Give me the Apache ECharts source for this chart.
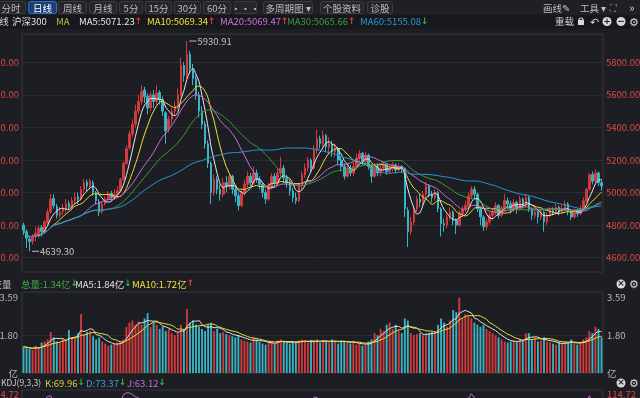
<!DOCTYPE html>
<html>
<head>
<meta charset="utf-8">
<script src="https://cdn.jsdelivr.net/npm/echarts@6/dist/echarts.min.js"></script>
<style>
html, body { margin: 0; padding: 0; background: #1d1e23; }
#kline { width: 640px; height: 398px; }
</style>
</head>
<body>
<div id="kline"></div>
<script>
// 沪深300 日K  [open, close, low, high]
const kline = [
    [4800,4770,4740,4815],[4760,4720,4660,4775],[4715,4700,4639.3,4730],[4700,4730,4680,4745],[4735,4750,4700,4790],
    [4745,4780,4720,4800],[4785,4760,4730,4800],[4760,4820,4750,4830],[4815,4880,4800,4900],[4880,4960,4870,4990],
    [4965,4920,4900,4990],[4915,4860,4840,4930],[4860,4880,4845,4910],[4885,4900,4860,4930],[4900,4930,4880,4960],
    [4935,4910,4890,4950],[4905,4950,4890,4970],[4950,4970,4930,5000],[4975,4960,4930,5000],[4960,5020,4950,5040],
    [5020,5060,5000,5085],[5065,5040,5010,5080],[5040,5070,5020,5085],[5060,5000,4980,5075],[5000,4950,4930,5010],
    [4945,4880,4855,4960],[4880,4930,4870,4945],[4935,4960,4920,4975],[4960,4990,4950,5010],[4995,4970,4950,5010],
    [4970,4990,4955,5020],[4990,5010,4975,5040],[5010,5080,5000,5090],[5080,5180,5070,5190],[5180,5270,5170,5290],
    [5275,5360,5260,5380],[5360,5420,5340,5450],[5420,5500,5400,5540],[5500,5560,5480,5600],[5560,5620,5540,5660],
    [5630,5590,5550,5650],[5590,5520,5480,5610],[5520,5600,5500,5620],[5600,5560,5520,5630],[5560,5610,5540,5660],
    [5615,5570,5540,5630],[5570,5500,5470,5590],[5490,5380,5300,5500],[5390,5450,5370,5470],[5450,5500,5420,5520],
    [5500,5530,5470,5560],[5530,5600,5510,5640],[5600,5780,5590,5830],[5780,5720,5680,5800],[5720,5850,5700,5930.91],
    [5850,5760,5730,5870],[5760,5700,5660,5790],[5700,5600,5570,5720],[5600,5500,5460,5620],[5500,5420,5390,5530],
    [5420,5300,5270,5440],[5300,5180,5150,5320],[5180,5000,4930,5190],[5000,5080,4980,5110],[5080,5020,4990,5100],
    [5020,4990,4950,5050],[4990,5060,4970,5090],[5060,5040,5000,5100],[5040,5100,5020,5110],[5100,5020,4990,5110],
    [5020,4980,4940,5040],[4980,4920,4890,5000],[4920,5000,4910,5020],[5000,5050,4980,5080],[5050,5100,5030,5130],
    [5100,5060,5040,5120],[5060,5120,5050,5160],[5120,5080,5060,5140],[5080,5050,5020,5100],[5050,5000,4970,5060],
    [5000,4960,4930,5020],[4960,5040,4950,5060],[5040,5100,5020,5120],[5100,5060,5040,5120],[5060,5120,5050,5150],
    [5120,5150,5100,5220],[5150,5090,5060,5170],[5090,5060,5030,5110],[5060,5010,4980,5080],[5010,4970,4940,5030],
    [4970,4950,4930,5000],[4950,5040,4940,5060],[5040,5110,5020,5130],[5110,5150,5090,5180],[5150,5200,5130,5220],
    [5200,5150,5120,5210],[5150,5260,5140,5290],[5260,5330,5240,5385],[5330,5300,5270,5350],[5300,5350,5280,5380],
    [5350,5280,5250,5360],[5280,5300,5240,5340],[5300,5250,5220,5320],[5250,5270,5220,5300],[5270,5200,5170,5280],
    [5200,5160,5130,5220],[5160,5100,5080,5180],[5100,5150,5090,5170],[5150,5120,5100,5170],[5120,5160,5100,5190],
    [5160,5210,5150,5240],[5210,5240,5190,5260],[5240,5190,5170,5250],[5190,5230,5180,5250],[5230,5160,5140,5240],
    [5160,5100,5060,5170],[5100,5160,5090,5180],[5160,5120,5100,5180],[5120,5150,5100,5170],[5150,5170,5130,5190],
    [5170,5130,5110,5180],[5130,5150,5120,5170],[5150,5170,5130,5190],[5170,5140,5120,5180],[5140,5160,5130,5180],
    [5160,5150,5120,5170],[5150,4900,4850,5150],[4890,4760,4665,4910],[4760,4820,4740,4850],[4820,4900,4800,4920],
    [4900,4960,4880,4980],[4960,4940,4910,4990],[4940,4990,4920,5010],[4990,5040,4970,5065],[5040,4990,4970,5050],
    [4990,4970,4940,5010],[4970,5000,4950,5020],[5000,4900,4880,5010],[4900,4810,4730,4910],[4810,4800,4760,4840],
    [4800,4850,4780,4870],[4850,4880,4830,4910],[4880,4830,4800,4890],[4830,4800,4745,4840],[4800,4870,4790,4890],
    [4870,4900,4850,4920],[4900,4920,4880,4950],[4920,4980,4900,5000],[4980,5020,4960,5040],[5020,4990,4960,5040],
    [4990,4900,4880,5000],[4900,4850,4800,4910],[4850,4790,4765,4860],[4790,4820,4770,4840],[4820,4860,4800,4880],
    [4860,4880,4830,4900],[4880,4920,4860,4940],[4920,4860,4840,4930],[4860,4900,4850,4920],[4900,4950,4880,4990],
    [4950,4930,4900,4970],[4930,4900,4870,4950],[4900,4940,4880,4960],[4940,4900,4870,4950],[4900,4960,4890,4980],
    [4960,4930,4900,4970],[4930,4970,4910,4990],[4970,4900,4880,4980],[4900,4860,4830,4910],[4860,4880,4840,4900],
    [4880,4850,4810,4890],[4850,4880,4830,4900],[4880,4820,4760,4890],[4820,4860,4800,4880],[4860,4890,4850,4910],
    [4890,4880,4860,4910],[4880,4910,4870,4930],[4910,4880,4860,4920],[4880,4900,4870,4920],[4900,4930,4890,4950],
    [4930,4880,4860,4940],[4880,4850,4830,4900],[4850,4890,4840,4900],[4890,4870,4850,4900],[4870,4900,4860,4920],
    [4900,4950,4890,4970],[4950,5020,4940,5030],[5020,5110,5010,5120],[5110,5070,5050,5130],[5070,5120,5060,5145],
    [5120,5060,5040,5130],[5060,5040,5010,5080]
];

// 成交量 (亿)
const volumes = [
    1.25,1.20,1.15,1.10,1.30,1.20,1.45,1.50,1.60,1.95,
    1.70,1.50,1.45,1.60,1.55,2.05,1.70,1.65,1.90,2.80,
    1.85,1.95,2.00,1.75,1.60,1.70,1.50,1.40,1.30,1.35,
    1.40,1.45,1.50,1.60,2.20,2.40,2.50,2.30,2.45,2.30,
    2.60,2.85,2.20,2.40,2.30,2.10,2.20,2.00,2.10,1.90,
    1.80,1.90,2.30,2.10,3.05,2.40,2.50,2.30,2.20,2.10,
    2.00,2.30,2.40,2.00,2.10,1.90,1.95,1.85,1.80,1.75,
    1.70,1.80,1.60,1.55,1.50,1.45,1.70,1.60,1.50,1.40,
    1.35,1.45,1.50,1.40,1.55,1.60,1.50,1.45,1.40,1.50,
    1.45,1.55,1.60,1.50,1.45,1.55,1.50,1.60,1.45,1.55,
    1.50,1.45,1.60,1.50,1.40,1.55,1.50,1.45,1.40,1.50,
    1.35,1.40,1.30,1.35,1.50,1.60,1.90,1.80,2.10,2.00,
    2.30,2.40,2.10,2.30,2.00,1.90,2.60,2.50,1.90,1.80,
    1.85,1.90,1.80,1.85,1.90,1.95,2.00,2.30,2.60,2.40,
    2.20,2.50,3.00,2.90,3.59,2.60,2.80,2.70,2.60,2.40,
    2.30,2.20,2.30,2.10,2.00,1.90,1.80,1.70,1.60,1.50,
    1.45,1.50,1.55,1.50,1.60,1.55,1.90,1.90,1.60,1.65,
    1.50,1.55,1.70,1.50,1.45,1.40,1.35,1.45,1.40,1.50,
    1.45,1.60,1.40,1.35,1.45,1.60,1.70,2.00,1.90,2.20,
    2.10,1.70
];

const days = kline.map((_, i) => 'D' + (i + 1));

const maPeriods = [5, 10, 20, 30, 60];
const maColors = ['#e8e8e8', '#ece03c', '#d06ee0', '#3f9c3a', '#2a95d6'];
const maLast = ['5071.23', '5069.34', '5069.47', '5065.66', '5155.08'];
const maTrend = ['↑', '↑', '↑', '↑', '↓'];

const volLegend = ['总量:1.34亿', 'MA5:1.84亿', 'MA10:1.72亿'];
const volTrend = ['↓', '↓', '↑'];
const kdjLegend = ['K:69.96', 'D:73.37', 'J:63.12'];
const kdjTrend = ['↓', '↓', '↓'];
const kdjTop = 114.72;

const tabNames = ['分时', '日线', '周线', '月线', '5分', '15分', '30分', '60分', '•••', '多周期图 ▾', '个股资料', '诊股'];

const upColor = '#d33a3c';
const downColor = '#3ab3c4';
const FONT = '"Noto Sans CJK SC", "Noto Sans", sans-serif';

function movingAverage(values, n) {
    return values.map(function (v, i) {
        const from = Math.max(0, i - n + 1);
        let s = 0;
        for (let k = from; k <= i; k++) s += values[k];
        return +(s / (i - from + 1)).toFixed(2);
    });
}

function kdj(rows) {
    let k = 50, d = 50;
    const J = [];
    rows.forEach(function (r, i) {
        const from = Math.max(0, i - 8);
        let lo = Infinity, hi = -Infinity;
        for (let t = from; t <= i; t++) { lo = Math.min(lo, rows[t][2]); hi = Math.max(hi, rows[t][3]); }
        const rsv = hi === lo ? 50 : (r[1] - lo) / (hi - lo) * 100;
        k = k * 2 / 3 + rsv / 3;
        d = d * 2 / 3 + k / 3;
        J.push(+(3 * k - 2 * d).toFixed(2));
    });
    return J;
}

const closes = kline.map(r => r[1]);
const jLine = kdj(kline);

function txt(x, y, text, fill, size, align) {
    return {
        type: 'text', x: x, y: y, silent: true,
        style: { text: text, fill: fill, fontSize: size || 9.5, fontFamily: FONT, align: align || 'left', verticalAlign: 'middle' }
    };
}
function legendItem(x, y, text, color, arrow, arrowColor) {
    return {
        type: 'text', x: x, y: y, silent: true,
        style: {
            text: '{a|' + text + '}{b|' + arrow + '}', fontSize: 9.5, fontFamily: FONT, verticalAlign: 'middle',
            rich: { a: { fill: color, fontSize: 9.5, fontFamily: FONT }, b: { fill: arrowColor, fontSize: 9, fontWeight: 'bold', fontFamily: 'DejaVu Sans' } }
        }
    };
}
function roundIcon(x, y, mark) {
    return [
        { type: 'circle', silent: true, shape: { cx: x, cy: y, r: 4.5 }, style: { fill: '#d8d8d8' } },
        { type: 'text', x: x, y: y, silent: true, style: { text: mark, fill: '#1d1e23', fontSize: 9, fontWeight: 'bold', fontFamily: 'DejaVu Sans', align: 'center', verticalAlign: 'middle' } }
    ];
}

// tool bar and legend rows
const tabBox = [[-4, 29], [28, 28], [58, 28], [89, 27], [119, 23], [145, 26], [174, 26], [203, 27], [234, 22], [263, 49], [320, 43], [367, 25]];
const graphics = [
    { type: 'rect', silent: true, shape: { x: 0, y: 0, width: 640, height: 15 }, style: { fill: '#1f2025' } },
    { type: 'rect', silent: true, shape: { x: 0, y: 15, width: 640, height: 14 }, style: { fill: '#17181c' } }
];
tabNames.forEach(function (name, i) {
    const sel = i === 1;
    graphics.push({ type: 'rect', silent: true, shape: { x: tabBox[i][0] + 0.5, y: 1.5, width: tabBox[i][1], height: 12, r: 2 },
        style: { fill: sel ? '#1d3f73' : '#25262c', stroke: sel ? '#2f6fd0' : '#3b3c42', lineWidth: 1 } });
    graphics.push(txt(tabBox[i][0] + tabBox[i][1] / 2 + 0.5, 8, name, sel ? '#ffffff' : '#bdbdbd', 9.5, 'center'));
});
graphics.push(txt(543, 8, '画线✎', '#bdbdbd'), txt(580, 8, '工具 ▾', '#bdbdbd'), txt(613, 8, '⛶', '#9a9a9a', 9, 'center'), txt(632, 8, '»', '#cfcfcf', 11, 'center'));

graphics.push(txt(-7, 21.5, 'K线', '#d0d0d0'), txt(12, 21.5, '沪深300', '#e0e0e0'), txt(56, 21.5, 'MA', '#c9b94c'));
const maX = [79, 147, 220, 287, 360];
maPeriods.forEach(function (p, i) {
    graphics.push(legendItem(maX[i], 21.5, 'MA' + p + ':' + maLast[i], maColors[i], maTrend[i], maTrend[i] === '↑' ? '#e33b3b' : '#2fb44a'));
});
graphics.push(txt(555, 21.5, '重载', '#d0d0d0'));
graphics.push({ type: 'rect', silent: true, shape: { x: 578, y: 20, width: 6, height: 5 }, style: { fill: '#d8d8d8' } });
graphics.push({ type: 'arc', silent: true, shape: { cx: 581, cy: 20, r: 2, startAngle: Math.PI, endAngle: 0 }, style: { stroke: '#d8d8d8', fill: null, lineWidth: 1.2 } });
graphics.push(txt(594, 21.5, '↶', '#d8d8d8', 11, 'center'));
graphics.push.apply(graphics, roundIcon(607, 21.5, '+'));
graphics.push.apply(graphics, roundIcon(621, 21.5, '−'));
graphics.push(txt(634, 21.5, '⚙', '#d8d8d8', 11, 'center'));

// volume header
graphics.push(txt(-17, 284, '成交量', '#bdbdbd'));
const volX = [21, 75, 132];
const volColors = ['#3fae49', '#e0e0e0', '#ece03c'];
volLegend.forEach(function (t, i) {
    graphics.push(legendItem(volX[i], 284, t, volColors[i], volTrend[i], volTrend[i] === '↑' ? '#e33b3b' : '#2fb44a'));
});
graphics.push.apply(graphics, roundIcon(621, 284, '×'));
graphics.push(txt(634, 284, '⚙', '#d8d8d8', 11, 'center'));

// kdj header
graphics.push(txt(1, 383, 'KDJ(9,3,3)', '#cfcfcf', 8.5));
const kdjX = [45, 86, 127];
const kdjColors = ['#d9cc45', '#3a9fd2', '#c46ed6'];
kdjLegend.forEach(function (t, i) {
    graphics.push(legendItem(kdjX[i], 383, t, kdjColors[i], kdjTrend[i], '#2fb44a'));
});
graphics.push.apply(graphics, roundIcon(621, 383, '×'));
graphics.push(txt(634, 383, '⚙', '#d8d8d8', 11, 'center'));

const gridStyle = { left: 22, right: 37, show: true, borderColor: '#36373d', borderWidth: 1, containLabel: false, outerBoundsMode: 'none' };
const hiddenX = {
    type: 'category', data: days, boundaryGap: true,
    axisLine: { show: false }, axisTick: { show: false }, axisLabel: { show: false }, splitLine: { show: false }
};
const priceLabel = { color: '#e04848', fontSize: 9.5, fontFamily: FONT, margin: 3, showMinLabel: false, showMaxLabel: false, formatter: v => v.toFixed(2) };
const volLabel = { color: '#b8b8b8', fontSize: 9.5, fontFamily: FONT, margin: 4, showMaxLabel: false, formatter: v => v === 0 ? '亿' : v.toFixed(2) };

const series = [{
    type: 'candlestick', name: '沪深300', data: kline, xAxisIndex: 0, yAxisIndex: 0, barWidth: '68%',
    itemStyle: { color: upColor, color0: downColor, borderColor: upColor, borderColor0: downColor, borderWidth: 1 },
    markPoint: {
        symbol: 'rect', symbolSize: [7, 1], symbolOffset: [6, 0],
        itemStyle: { color: '#bdbdbd' },
        label: { show: true, position: 'right', distance: 1, color: '#c4c4c4', fontSize: 9.5, fontFamily: FONT, formatter: p => p.value.toFixed(2) },
        data: [{ type: 'max', valueDim: 'highest' }, { type: 'min', valueDim: 'lowest' }]
    }
}];
maPeriods.forEach(function (p, i) {
    series.push({
        type: 'line', name: 'MA' + p, data: movingAverage(closes, p), xAxisIndex: 0, yAxisIndex: 0,
        smooth: 0.3, showSymbol: false, lineStyle: { width: 1, color: maColors[i] }
    });
});
series.push({
    type: 'bar', name: '成交量', xAxisIndex: 1, yAxisIndex: 2, barWidth: '62%',
    data: volumes.map((v, i) => ({ value: v, itemStyle: { color: kline[i][1] >= kline[i][0] ? upColor : downColor } }))
});
series.push({ type: 'line', name: 'VMA5', data: movingAverage(volumes, 5), xAxisIndex: 1, yAxisIndex: 2, smooth: 0.3, showSymbol: false, lineStyle: { width: 1, color: '#e8e8e8' } });
series.push({ type: 'line', name: 'VMA10', data: movingAverage(volumes, 10), xAxisIndex: 1, yAxisIndex: 2, smooth: 0.3, showSymbol: false, lineStyle: { width: 1, color: '#ece03c' } });
series.push({ type: 'line', name: 'J', data: jLine, xAxisIndex: 2, yAxisIndex: 4, showSymbol: false, lineStyle: { width: 1, color: '#c46ed6' } });

const option = {
    backgroundColor: '#1d1e23',
    animation: false,
    graphic: graphics,
    grid: [
        Object.assign({ top: 34, height: 238 }, gridStyle),
        Object.assign({ top: 292, height: 81 }, gridStyle),
        Object.assign({ top: 390, height: 90 }, gridStyle)
    ],
    xAxis: [
        Object.assign({ gridIndex: 0 }, hiddenX),
        Object.assign({ gridIndex: 1 }, hiddenX),
        Object.assign({ gridIndex: 2 }, hiddenX)
    ],
    yAxis: [
        { gridIndex: 0, position: 'right', min: 4512, max: 5974, splitNumber: 7, axisLine: { show: false }, axisTick: { show: false },
            axisLabel: priceLabel, splitLine: { lineStyle: { color: '#2c2d33' } } },
        { gridIndex: 0, position: 'left', min: 4512, max: 5974, splitNumber: 7, axisLine: { show: false }, axisTick: { show: false },
            axisLabel: priceLabel, splitLine: { show: false } },
        { gridIndex: 1, position: 'right', min: 0, max: 3.86, interval: 1.796, axisLine: { show: false }, axisTick: { show: false },
            axisLabel: volLabel, splitLine: { lineStyle: { color: ['rgba(0,0,0,0)', '#2c2d33', 'rgba(0,0,0,0)', 'rgba(0,0,0,0)'] } } },
        { gridIndex: 1, position: 'left', min: 0, max: 3.86, interval: 1.796, axisLine: { show: false }, axisTick: { show: false },
            axisLabel: volLabel, splitLine: { show: false } },
        { gridIndex: 2, position: 'right', min: -30, max: kdjTop, axisLine: { show: false }, axisTick: { show: false }, splitLine: { show: false },
            axisLabel: { color: '#e04848', fontSize: 9.5, fontFamily: FONT, margin: 4, verticalAlign: 'top', formatter: v => v === kdjTop ? kdjTop.toFixed(2) : '' } },
        { gridIndex: 2, position: 'left', min: -30, max: kdjTop, axisLine: { show: false }, axisTick: { show: false }, splitLine: { show: false },
            axisLabel: { color: '#e04848', fontSize: 9.5, fontFamily: FONT, margin: 3, verticalAlign: 'top', formatter: v => v === kdjTop ? kdjTop.toFixed(2) : '' } }
    ],
    series: series
};

const chart = echarts.init(document.getElementById('kline'));
chart.setOption(option);
</script>
</body>
</html>
